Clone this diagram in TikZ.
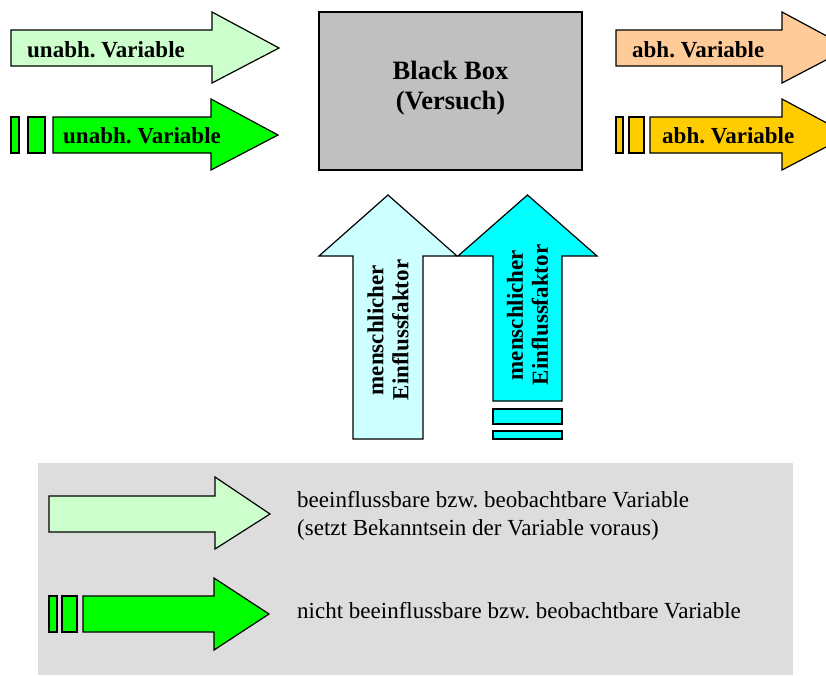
\documentclass[tikz,border=0pt]{standalone}
\usepackage{fontspec}
\setmainfont{Liberation Serif}
\usepackage{xcolor}
\usetikzlibrary{positioning}
\frenchspacing

\definecolor{hellgruen}{HTML}{CCFFCC}
\definecolor{gruen}{HTML}{00FF00}
\definecolor{pfirsich}{HTML}{FFCC99}
\definecolor{gold}{HTML}{FFCC00}
\definecolor{hellcyan}{HTML}{CCFFFF}
\definecolor{cyan}{HTML}{00FFFF}
\definecolor{boxgrau}{HTML}{C0C0C0}
\definecolor{legendgrau}{HTML}{DDDDDD}

\begin{document}
\begin{tikzpicture}[x=1pt, y=-1pt,
    pfeil/.style={draw=black, line width=1.2pt, line join=miter},
    fett/.style={font=\fontsize{23}{25}\selectfont\bfseries, inner sep=0pt},
    normal/.style={font=\fontsize{23}{28}\selectfont, inner sep=0pt}]

  \useasboundingbox (0,0) rectangle (826,675);
  \clip (0,0) rectangle (826,675);

  % === Eingänge (links) ===
  \draw[pfeil, fill=hellgruen] (11,30) -- (212,30) -- (212,12) -- (279,48)
    -- (212,83) -- (212,66) -- (11,66) -- cycle;
  \node[fett, anchor=base west] (uv1) at (27,57) {unabh. Variable};

  \draw[pfeil, fill=gruen] (11,117) rectangle (19,153);
  \draw[pfeil, fill=gruen] (28,117) rectangle (45,153);
  \draw[pfeil, fill=gruen] (53,117) -- (211,117) -- (211,99) -- (278,135)
    -- (211,170) -- (211,153) -- (53,153) -- cycle;
  \node[fett, anchor=base west] (uv2) at (63,143) {unabh. Variable};

  % === Black Box ===
  \draw[pfeil, fill=boxgrau] (319,12) rectangle (582,170);
  \node[font=\fontsize{26.5}{30}\selectfont\bfseries, align=center, inner sep=0pt]
    (bb) at (450.5,88) {Black Box\\(Versuch)};

  % === Ausgänge (rechts) ===
  \draw[pfeil, fill=pfirsich] (616,30) -- (782,30) -- (782,12) -- (849,48)
    -- (782,83) -- (782,66) -- (616,66) -- cycle;
  \node[fett, anchor=base west] (av1) at (632,57) {abh. Variable};

  \draw[pfeil, fill=gold] (616,117) rectangle (623,153);
  \draw[pfeil, fill=gold] (629,117) rectangle (644,153);
  \draw[pfeil, fill=gold] (650,117) -- (782,117) -- (782,99) -- (849,135)
    -- (782,170) -- (782,153) -- (650,153) -- cycle;
  \node[fett, anchor=base west] (av2) at (662,143) {abh. Variable};

  % === Menschlicher Einflussfaktor ===
  \draw[pfeil, fill=hellcyan] (353,439) -- (353,256) -- (319,256) -- (388,195)
    -- (457,256) -- (423,256) -- (423,439) -- cycle;
  \node[fett, rotate=90, align=center] (me1) at (388,330)
    {menschlicher\\Einflussfaktor};

  \draw[pfeil, fill=cyan] (493,401) -- (493,256) -- (458,256) -- (527.5,195)
    -- (597,256) -- (562,256) -- (562,401) -- cycle;
  \draw[pfeil, fill=cyan] (493,409) rectangle (562,424);
  \draw[pfeil, fill=cyan] (493,431) rectangle (562,439);
  \node[fett, rotate=90, align=center] (me2) at (527.5,315)
    {menschlicher\\Einflussfaktor};

  % === Legende ===
  \fill[legendgrau] (38,463) rectangle (793,675);

  \draw[pfeil, fill=hellgruen] (49,496) -- (215,496) -- (215,477) -- (270,514)
    -- (215,549) -- (215,532) -- (49,532) -- cycle;
  \node[normal, anchor=base west, align=left] (lg1) at (297,535)
    {beeinflussbare bzw. beobachtbare Variable\\(setzt Bekanntsein der Variable voraus)};

  \draw[pfeil, fill=gruen] (49,596) rectangle (57,632);
  \draw[pfeil, fill=gruen] (62,596) rectangle (77,632);
  \draw[pfeil, fill=gruen] (83,596) -- (214,596) -- (214,578) -- (269,614)
    -- (214,650) -- (214,632) -- (83,632) -- cycle;
  \node[normal, anchor=base west] (lg2) at (297,618)
    {nicht beeinflussbare bzw. beobachtbare Variable};

\end{tikzpicture}
\end{document}
